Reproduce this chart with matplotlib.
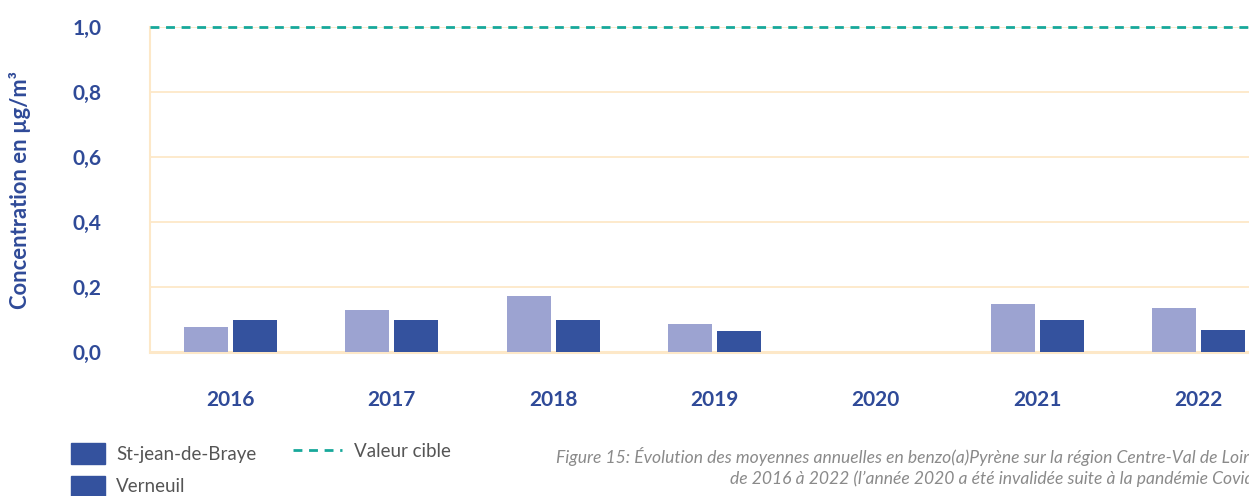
import numpy as np
import matplotlib
matplotlib.use("Agg")
import matplotlib.pyplot as plt
from matplotlib.patches import Patch
from matplotlib.lines import Line2D

years = ["2016", "2017", "2018", "2019", "2020", "2021", "2022"]
st_jean = [0.077, 0.13, 0.172, 0.086, np.nan, 0.148, 0.135]
verneuil = [0.10, 0.10, 0.10, 0.065, np.nan, 0.10, 0.068]
valeur_cible = 1.0
yticks = [0.0, 0.2, 0.4, 0.6, 0.8, 1.0]
ytick_labels = ["0,0", "0,2", "0,4", "0,6", "0,8", "1,0"]

blue_txt = "#2f4a98"
light = "#9ca3d1"
dark = "#34529e"
grid_c = "#fde8c8"
teal = "#17a89a"

plt.rcParams["font.family"] = ["Lato", "DejaVu Sans"]

W, H = 1249, 496
fig = plt.figure(figsize=(W / 100, H / 100), dpi=100)
# axis runs past the right edge of the picture, as in the reference
ax = fig.add_axes([150 / W, 144 / H, 1129 / W, 325 / H])

x = np.arange(len(years))
bw = 0.273
ax.bar(x - 0.152, st_jean, bw, color=light, zorder=3)
ax.bar(x + 0.152, verneuil, bw, color=dark, zorder=3)
ax.axhline(valeur_cible, color=teal, lw=2, ls=(0, (3.2, 2.4)), zorder=4, clip_on=False)

ax.set_xlim(-0.5, len(years) - 0.5)
ax.set_ylim(0, 1.0)
ax.set_yticks(yticks)
ax.set_yticklabels(ytick_labels, fontweight="bold", fontsize=15, color=blue_txt, ha="left")
ax.set_xticks(x)
ax.set_xticklabels(years, fontweight="bold", fontsize=15, color=blue_txt)
ax.tick_params(axis="y", length=0, pad=55.5)
ax.tick_params(axis="x", length=0, pad=27)

ax.grid(axis="y", color=grid_c, lw=1.3, zorder=0)
for s in ["top", "right"]:
    ax.spines[s].set_visible(False)
ax.spines["left"].set_color(grid_c)
ax.spines["left"].set_linewidth(1.5)
ax.spines["bottom"].set_color(grid_c)
ax.spines["bottom"].set_linewidth(2.2)

fig.text(20 / W, 1 - 190 / H, "Concentration en µg/m³", rotation=90, ha="center",
         va="center", fontsize=15.8, fontweight="bold", color=blue_txt)

# legend
bar_handles = [Patch(color=dark), Patch(color=dark)]
fig.legend(bar_handles, ["St-jean-de-Braye", "Verneuil"], loc="upper left",
           bbox_to_anchor=(54 / W, 1 - 426 / H), frameon=False, fontsize=13.5,
           handlelength=1.8, handleheight=1.35, handletextpad=0.6,
           labelspacing=0.62, labelcolor="#555555")
fig.legend([Line2D([], [], color=teal, lw=2, ls=(0, (3.2, 2.4)))], ["Valeur cible"],
           loc="upper left", bbox_to_anchor=(276 / W, 1 - 426 / H), frameon=False,
           fontsize=13.5, handlelength=2.6, handletextpad=0.65, labelcolor="#555555")

cap = ("Figure 15: Évolution des moyennes annuelles en benzo(a)Pyrène sur la région Centre-Val de Loire\n"
       "de 2016 à 2022 (l\u2019année 2020 a été invalidée suite à la pandémie Covid)")
fig.text(1258 / W, 1 - 467 / H, cap, ha="right", va="center", fontsize=12.6, style="italic",
         color="#8a8a8a", linespacing=1.38, multialignment="right")

fig.savefig("out.png", dpi=100)
